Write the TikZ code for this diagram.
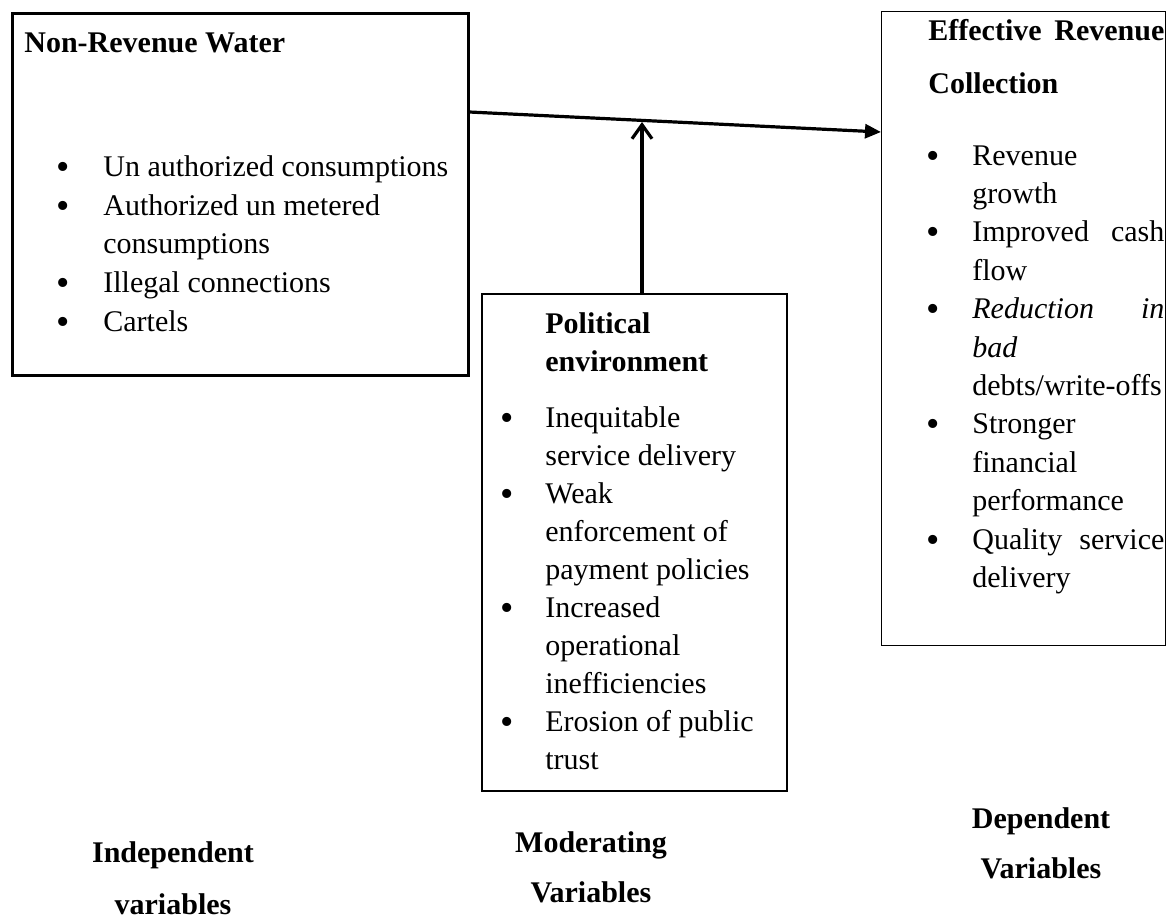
\documentclass[tikz,border=0pt]{standalone}
\usepackage{fontspec}
\setmainfont{Liberation Serif}
\usetikzlibrary{arrows.meta}
\tikzset{
  boxstyle/.style={draw, rectangle, inner sep=0pt, anchor=north west},
  txt/.style={anchor=base west, inner sep=0pt, font=\fontsize{15}{19}\selectfont},
  bul/.style={anchor=base, inner sep=0pt, yshift=-1.5pt, font=\fontsize{19}{19}\selectfont},
  lbl/.style={anchor=base, inner sep=0pt, font=\fontsize{15}{19}\selectfont\bfseries},
  conn/.style={line width=1.6pt}
}
\begin{document}
\begin{tikzpicture}[x=0.5pt,y=-0.5pt]
\useasboundingbox (0,0) rectangle (1172,918);

% ---- boxes
\node[boxstyle, line width=1.25pt, minimum width=228pt, minimum height=181pt] (nrw) at (11,12) {};
\node[boxstyle, line width=0.7pt, minimum width=142pt, minimum height=317pt] (erc) at (881,11) {};
\node[boxstyle, line width=1.05pt, minimum width=152.5pt, minimum height=248.5pt] (pol) at (481,293) {};

% ---- left box text
\node[txt] (nrwt) at (24,52) {\bfseries Non-Revenue Water};
\foreach \y/\nm in {176/a,215/b,292/c,331/d} \node[bul] (lb\nm) at (63,\y) {•};
\node[txt] (l1) at (103,176) {Un authorized consumptions};
\node[txt] (l2) at (103,215) {Authorized un metered};
\node[txt] (l3) at (103,253) {consumptions};
\node[txt] (l4) at (103,292) {Illegal connections};
\node[txt] (l5) at (103,331) {Cartels};

% ---- right box text
\node[txt] (erct1) at (928,40) {\bfseries\hbox to 118pt{Effective\hfill Revenue}};
\node[txt] (erct2) at (928,93) {\bfseries Collection};
\foreach \y/\nm in {165/a,241/b,318/c,433/d,549/e} \node[bul] (rb\nm) at (933,\y) {•};
\node[txt] (r1) at (972,165) {Revenue};
\node[txt] (r2) at (972,203) {growth};
\node[txt] (r3) at (972,241) {\hbox to 96pt{Improved\hfill cash}};
\node[txt] (r4) at (972,280) {flow};
\node[txt] (r5) at (972,318) {\hbox to 96pt{\itshape Reduction\hfill in}};
\node[txt] (r6) at (972,357) {\itshape bad};
\node[txt] (r7) at (972,395) {debts/write-offs};
\node[txt] (r8) at (972,433) {Stronger};
\node[txt] (r9) at (972,472) {financial};
\node[txt] (r10) at (972,510) {performance};
\node[txt] (r11) at (972,549) {\hbox to 96pt{Quality\hfill service}};
\node[txt] (r12) at (972,587) {delivery};

% ---- middle box text
\node[txt] (polt1) at (545,333) {\bfseries Political};
\node[txt] (polt2) at (545,371) {\bfseries environment};
\foreach \y/\nm in {427/a,503/b,617/c,731/d} \node[bul] (mb\nm) at (507,\y) {•};
\node[txt] (m1) at (545,427) {Inequitable};
\node[txt] (m2) at (545,465) {service delivery};
\node[txt] (m3) at (545,503) {Weak};
\node[txt] (m4) at (545,541) {enforcement of};
\node[txt] (m5) at (545,579) {payment policies};
\node[txt] (m6) at (545,617) {Increased};
\node[txt] (m7) at (545,655) {operational};
\node[txt] (m8) at (545,693) {inefficiencies};
\node[txt] (m9) at (545,731) {Erosion of public};
\node[txt] (m10) at (545,769) {trust};

% ---- bottom labels
\node[lbl] (ind1) at (173,862) {Independent};
\node[lbl] (ind2) at (173,914) {variables};
\node[lbl] (mod1) at (591,852) {Moderating};
\node[lbl] (mod2) at (591,902) {Variables};
\node[lbl] (dep1) at (1041,828) {Dependent};
\node[lbl] (dep2) at (1041,878) {Variables};

% ---- connectors
\coordinate (hs) at (nrw.east |- 0,112);
\coordinate (he) at (erc.west |- 0,132);
\coordinate (vt) at (642,122);
\coordinate (vb) at (pol.north -| vt);
\draw[conn, -{Triangle[length=8pt,width=7pt]}] (hs) -- (he);
\draw[conn, -{Straight Barb[length=7pt,width=10pt,line width=1.6pt]}] (vb) -- (vt);
\end{tikzpicture}
\end{document}
